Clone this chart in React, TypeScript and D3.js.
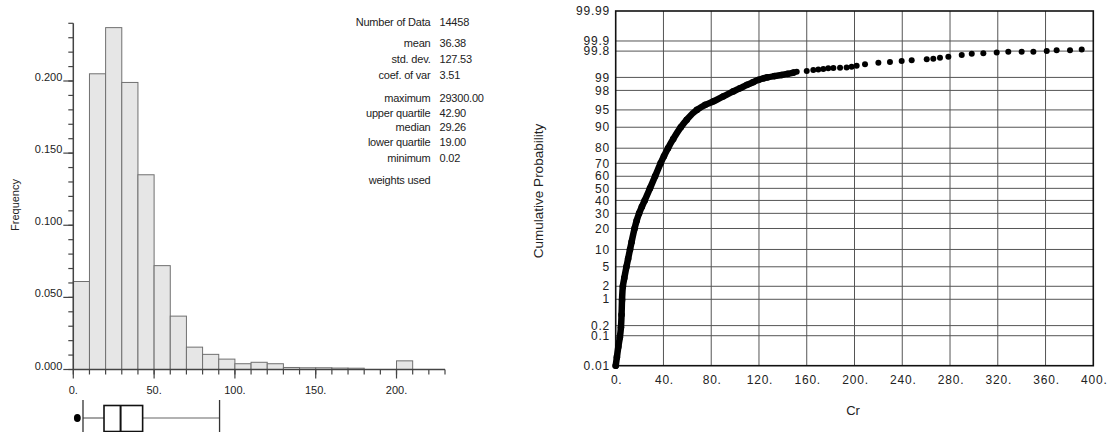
import React from 'react';
import * as d3 from 'd3';

// ---------- Histogram data ----------
const binStarts = [0, 10, 20, 30, 40, 50, 60, 70, 80, 90, 100, 110, 120, 130, 140, 150, 160, 170, 180, 190, 200, 210, 220];
const binFreq = [0.061, 0.205, 0.237, 0.199, 0.135, 0.072, 0.037, 0.0155, 0.0105, 0.0072, 0.004, 0.005, 0.004, 0.0014, 0.0012, 0.0012, 0.001, 0.0009, 0, 0, 0.006, 0, 0];
const binWidth = 10;
const histXTicks = [0, 50, 100, 150, 200];
const histYTicks = [0, 0.05, 0.1, 0.15, 0.2];

// ---------- Box plot ----------
const boxWhiskerLow = 6;
const boxQ1 = 19.0;
const boxMedian = 29.26;
const boxQ3 = 42.9;
const boxWhiskerHigh = 90.5;
const boxOutliers = [2.5];

// ---------- Statistics ----------
const statLabels = ['Number of Data', 'mean', 'std. dev.', 'coef. of var', 'maximum', 'upper quartile', 'median', 'lower quartile', 'minimum', 'weights used'];
const statValues = ['14458', '36.38', '127.53', '3.51', '29300.00', '42.90', '29.26', '19.00', '0.02', ''];

// ---------- Probability plot ----------
const probTicks = [0.01, 0.1, 0.2, 1, 2, 5, 10, 20, 30, 40, 50, 60, 70, 80, 90, 95, 98, 99, 99.8, 99.9, 99.99];
const crTicks = [0, 40, 80, 120, 160, 200, 240, 280, 320, 360, 400];
const denseCr = [0, 1, 2.2, 3.5, 4.4, 4.9, 5.3, 6.0, 7.2, 9.0, 10.4, 12.0, 13.3, 15.8, 17.6, 19.6, 21.9, 24.3, 28.7, 33.0, 37.6, 40.4, 43.8, 48.2, 54.5, 59.5, 68, 75, 82, 90, 98.5, 104, 110, 115, 119.4, 124, 127, 133, 139, 144, 149];
const denseProb = [0.01, 0.02, 0.045, 0.09, 0.18, 0.4, 0.96, 2, 3, 5, 7, 10, 13, 20, 25, 30, 35, 40, 50, 60, 70, 75, 80, 85, 90, 92.5, 95, 96, 96.6, 97.3, 97.9, 98.2, 98.5, 98.7, 98.85, 98.95, 99.0, 99.07, 99.13, 99.18, 99.24];
const tailCr = [151.6, 160, 165.5, 169.7, 173.9, 178, 182.3, 187.9, 193.4, 197.6, 201.8, 208.8, 220, 229.7, 239.5, 247.9, 260.5, 266, 271.6, 278.6, 289.8, 298.2, 307.9, 319.1, 328.8, 340, 349.8, 361, 369.3, 380.5, 390.3];
const tailProb = [99.28, 99.31, 99.35, 99.37, 99.38, 99.41, 99.42, 99.43, 99.44, 99.46, 99.49, 99.54, 99.58, 99.6, 99.62, 99.64, 99.66, 99.67, 99.69, 99.71, 99.74, 99.76, 99.77, 99.78, 99.79, 99.79, 99.79, 99.8, 99.81, 99.81, 99.82];

// inverse standard normal CDF (Acklam)
function probit(p: number): number {
  const a = [-3.969683028665376e1, 2.209460984245205e2, -2.759285104469687e2, 1.38357751867269e2, -3.066479806614716e1, 2.506628277459239];
  const b = [-5.447609879822406e1, 1.615858368580409e2, -1.556989798598866e2, 6.680131188771972e1, -1.328068155288572e1];
  const c = [-7.784894002430293e-3, -3.223964580411365e-1, -2.400758277161838, -2.549732539343734, 4.374664141464968, 2.938163982698783];
  const d = [7.784695709041462e-3, 3.224671290700398e-1, 2.445134137142996, 3.754408661907416];
  const pl = 0.02425;
  if (p < pl) {
    const q = Math.sqrt(-2 * Math.log(p));
    return (((((c[0] * q + c[1]) * q + c[2]) * q + c[3]) * q + c[4]) * q + c[5]) / ((((d[0] * q + d[1]) * q + d[2]) * q + d[3]) * q + 1);
  }
  if (p <= 1 - pl) {
    const q = p - 0.5;
    const r = q * q;
    return (((((a[0] * r + a[1]) * r + a[2]) * r + a[3]) * r + a[4]) * r + a[5]) * q / (((((b[0] * r + b[1]) * r + b[2]) * r + b[3]) * r + b[4]) * r + 1);
  }
  const q = Math.sqrt(-2 * Math.log(1 - p));
  return -(((((c[0] * q + c[1]) * q + c[2]) * q + c[3]) * q + c[4]) * q + c[5]) / ((((d[0] * q + d[1]) * q + d[2]) * q + d[3]) * q + 1);
}

const FONT = '"Liberation Sans", Arial, Helvetica, sans-serif';

export default function App() {
  // histogram scales
  const xH = d3.scaleLinear().domain([0, 230]).range([73.3, 445]);
  const yH = d3.scaleLinear().domain([0, 0.24]).range([369.5, 23.3]);
  const minorX = d3.range(0, 231, 10);
  const minorY = d3.range(0, 0.2401, 0.01);

  // probability plot scales
  const zMax = probit(0.9999);
  const xC = d3.scaleLinear().domain([0, 400]).range([615.7, 1093.3]);
  const yZ = d3.scaleLinear().domain([-zMax, zMax]).range([365.7, 11]);
  const yP = (p: number) => yZ(probit(p / 100));

  const densePts: [number, number][] = denseCr.map((c, i) => [xC(c), yP(denseProb[i])]);
  const lineGen = d3.line().curve(d3.curveMonotoneY);

  const boxY = 418;
  const statY = [22, 43, 59, 75, 98, 112.5, 127, 142, 158, 180];

  return (
    <svg width={1111} height={432} style={{ position: 'absolute', left: 0, top: 0, background: '#fff' }} fontFamily={FONT}>
      {/* ---------- Histogram ---------- */}
      <g>
        {binStarts.map((s, i) =>
          binFreq[i] > 0 ? (
            <rect key={'b' + i} x={xH(s)} y={yH(binFreq[i])} width={xH(s + binWidth) - xH(s)} height={yH(0) - yH(binFreq[i])}
              fill="#e6e6e6" stroke="#707070" strokeWidth={1} />
          ) : null
        )}
        {/* y axis */}
        <line x1={xH(0)} x2={xH(0)} y1={yH(0.24)} y2={yH(0)} stroke="#444" strokeWidth={1.5} />
        {minorY.map((v, i) => (
          <line key={'my' + i} x1={xH(0) - 5} x2={xH(0)} y1={yH(v)} y2={yH(v)} stroke="#444" strokeWidth={1.2} />
        ))}
        {histYTicks.map((v, i) => (
          <g key={'yt' + i}>
            <line x1={xH(0) - 10} x2={xH(0)} y1={yH(v)} y2={yH(v)} stroke="#444" strokeWidth={1.2} />
            <text x={xH(0) - 11} y={yH(v)} textAnchor="end" fontSize={11} fill="#222">{v.toFixed(3)}</text>
          </g>
        ))}
        {/* x axis */}
        <line x1={xH(0)} x2={xH(230)} y1={yH(0)} y2={yH(0)} stroke="#444" strokeWidth={1.5} />
        {minorX.map((v, i) => (
          <line key={'mx' + i} x1={xH(v)} x2={xH(v)} y1={yH(0)} y2={yH(0) + 5} stroke="#444" strokeWidth={1.2} />
        ))}
        {histXTicks.map((v, i) => (
          <g key={'xt' + i}>
            <line x1={xH(v)} x2={xH(v)} y1={yH(0)} y2={yH(0) + 9} stroke="#444" strokeWidth={1.2} />
            <text x={xH(v)} y={394} textAnchor="middle" fontSize={11} fill="#222">{v + '.'}</text>
          </g>
        ))}
        <text transform="translate(19,205) rotate(-90)" textAnchor="middle" fontSize={11} fill="#222">Frequency</text>

        {/* box plot */}
        <line x1={xH(boxWhiskerLow)} x2={xH(boxQ1)} y1={boxY} y2={boxY} stroke="#666" strokeWidth={1.2} />
        <line x1={xH(boxQ3)} x2={xH(boxWhiskerHigh)} y1={boxY} y2={boxY} stroke="#666" strokeWidth={1.2} />
        <line x1={xH(boxWhiskerLow)} x2={xH(boxWhiskerLow)} y1={400} y2={433} stroke="#333" strokeWidth={1.3} />
        <line x1={xH(boxWhiskerHigh)} x2={xH(boxWhiskerHigh)} y1={400} y2={433} stroke="#333" strokeWidth={1.3} />
        <rect x={xH(boxQ1)} y={405.5} width={xH(boxQ3) - xH(boxQ1)} height={26} fill="#fff" stroke="#111" strokeWidth={1.6} />
        <line x1={xH(boxMedian)} x2={xH(boxMedian)} y1={405.5} y2={431.5} stroke="#111" strokeWidth={2} />
        {boxOutliers.map((v, i) => (
          <ellipse key={'o' + i} cx={xH(v)} cy={boxY} rx={3.4} ry={4} fill="#000" />
        ))}

        {/* stats */}
        {statLabels.map((l, i) => (
          <g key={'s' + i}>
            <text x={430.5} y={statY[i] + 4} textAnchor="end" fontSize={11} letterSpacing={-0.2} fill="#222">{l}</text>
            <text x={439.5} y={statY[i] + 4} textAnchor="start" fontSize={11} letterSpacing={-0.2} fill="#222">{statValues[i]}</text>
          </g>
        ))}
      </g>

      {/* ---------- Probability plot ---------- */}
      <g>
        {crTicks.slice(1, -1).map((v, i) => (
          <line key={'vg' + i} x1={xC(v)} x2={xC(v)} y1={yZ(zMax)} y2={yZ(-zMax)} stroke="#555" strokeWidth={1} />
        ))}
        {probTicks.slice(1, -1).map((p, i) => (
          <line key={'hg' + i} x1={xC(0)} x2={xC(400)} y1={yP(p)} y2={yP(p)} stroke="#555" strokeWidth={1} />
        ))}
        <rect x={xC(0)} y={yZ(zMax)} width={xC(400) - xC(0)} height={yZ(-zMax) - yZ(zMax)} fill="none" stroke="#111" strokeWidth={1.6} />
        {probTicks.map((p, i) => (
          <text key={'pl' + i} x={610} y={yP(p)} dy="0.35em" textAnchor="end" fontSize={12} letterSpacing={0.8} fill="#222">{String(p)}</text>
        ))}
        {crTicks.map((v, i) => (
          <text key={'cl' + i} x={xC(v) + 1} y={384} textAnchor="middle" fontSize={12} letterSpacing={0.8} fill="#222">{v + '.'}</text>
        ))}
        <text x={853} y={415} textAnchor="middle" fontSize={13} fill="#222">Cr</text>
        <text transform="translate(543,191) rotate(-90)" textAnchor="middle" fontSize={13.5} fill="#222">Cumulative Probability</text>

        {/* data */}
        <path d={lineGen(densePts) || ''} fill="none" stroke="#000" strokeWidth={6.5} strokeLinecap="round" strokeLinejoin="round" />
        {densePts.map((pt, i) => (
          <circle key={'dp' + i} cx={pt[0]} cy={pt[1]} r={3.3} fill="#000" />
        ))}
        {tailCr.map((c, i) => (
          <circle key={'tp' + i} cx={xC(c)} cy={yP(tailProb[i])} r={3} fill="#000" />
        ))}
      </g>
    </svg>
  );
}
